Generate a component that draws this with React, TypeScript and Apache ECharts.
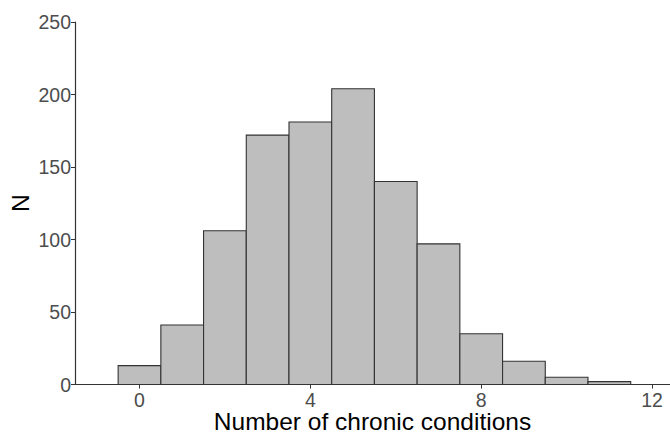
import React, { useEffect, useRef } from "react";
import * as echarts from "echarts";

const binCenters = [0, 1, 2, 3, 4, 5, 6, 7, 8, 9, 10, 11];
const counts = [13, 41, 106, 172, 181, 204, 140, 97, 35, 16, 5, 2];
const xTicks = [0, 4, 8, 12];
const yTicks = [0, 50, 100, 150, 200, 250];

export default function App() {
  const ref = useRef<HTMLDivElement>(null);
  useEffect(() => {
    const chart = echarts.init(ref.current!, null, { renderer: "svg" });
    const data = binCenters.map((c, i) => [c, counts[i]]);
    chart.setOption({
      animation: false,
      backgroundColor: "#ffffff",
      grid: { left: 75, right: 0, top: 22, bottom: 48.5, containLabel: false, outerBoundsMode: "none" },
      xAxis: {
        type: "value",
        min: -1.51,
        max: 12.42,
        name: "Number of chronic conditions",
        nameLocation: "middle",
        nameGap: 26.5,
        nameMoveOverlap: false,
        nameTextStyle: {
          color: "#000",
          fontSize: 24.5,
          lineHeight: 21,
          fontFamily: "Liberation Sans",
          verticalAlign: "top",
        },
        axisLine: { show: true, onZero: false, lineStyle: { color: "#333", width: 1.2 } },
        axisTick: { show: true, length: 4, customValues: xTicks, lineStyle: { color: "#333" } },
        axisLabel: {
          customValues: xTicks,
          color: "#4d4d4d",
          fontSize: 19.5,
          fontFamily: "Liberation Sans",
          margin: 5,
        },
        splitLine: { show: false },
      },
      yAxis: {
        type: "value",
        min: 0,
        max: 250,
        interval: 50,
        name: "N",
        nameLocation: "middle",
        nameGap: 42,
        nameMoveOverlap: false,
        nameRotate: 90,
        nameTextStyle: { color: "#000", fontSize: 24.5, fontFamily: "Liberation Sans" },
        axisLine: { show: true, onZero: false, lineStyle: { color: "#333", width: 1.2 } },
        axisTick: { show: true, length: 4, customValues: yTicks, lineStyle: { color: "#333" } },
        axisLabel: {
          customValues: yTicks,
          color: "#4d4d4d",
          fontSize: 19.5,
          fontFamily: "Liberation Sans",
          margin: 4,
        },
        splitLine: { show: false },
      },
      series: [
        {
          type: "custom",
          data,
          renderItem: (params: any, api: any) => {
            const c = api.value(0);
            const v = api.value(1);
            const p0 = api.coord([c - 0.5, 0]);
            const p1 = api.coord([c + 0.5, v]);
            return {
              type: "rect",
              shape: { x: p0[0], y: p1[1], width: p1[0] - p0[0], height: p0[1] - p1[1] },
              style: { fill: "#bebebe", stroke: "#333333", lineWidth: 1.1 },
            };
          },
        },
      ],
    });
    return () => chart.dispose();
  }, []);
  return <div ref={ref} style={{ width: 670, height: 433, position: "absolute", left: 0, top: 0 }} />;
}
